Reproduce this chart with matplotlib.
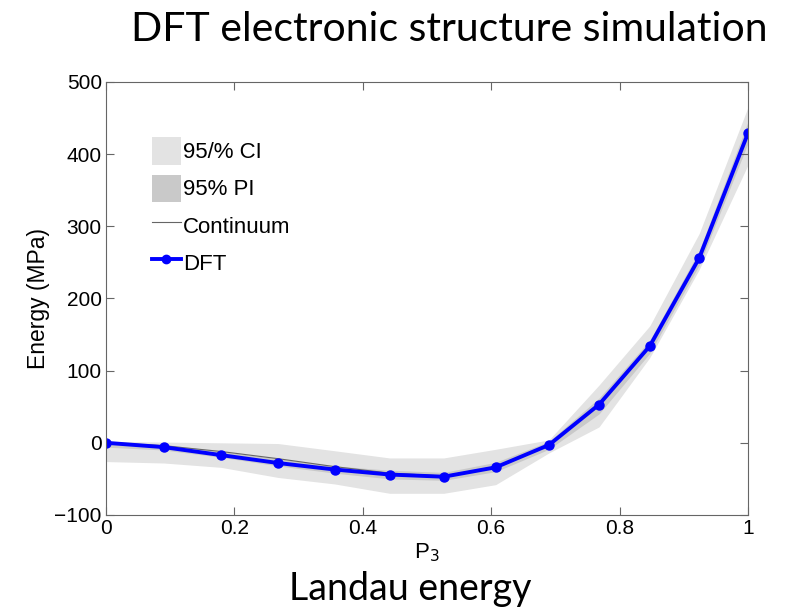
import matplotlib
matplotlib.use("Agg")
import matplotlib.pyplot as plt
from matplotlib.patches import Patch
from matplotlib.lines import Line2D

# values
p3 = [0.0, 0.090, 0.179, 0.268, 0.356, 0.442, 0.526, 0.607, 0.690, 0.768, 0.847, 0.924, 1.0]
dft = [0, -6, -17, -28, -37, -44, -47, -34, -3, 53, 134, 256, 429]
continuum = [0, -4, -12, -22, -33, -42, -46, -33, -3, 53, 134, 256, 429]
ci_low = [-26, -28, -34, -48, -57, -70, -70, -58, -14, 22, 118, 240, 385]
ci_high = [2, 1, 0, -1, -11, -21, -21, -9, 4, 80, 162, 290, 465]
pi_low = [-6, -10, -20, -32, -42, -50, -52, -40, -9, 40, 124, 246, 415]
pi_high = [2, -2, -12, -22, -32, -38, -41, -27, 2, 62, 142, 266, 445]

plt.rcParams['font.family'] = ['Liberation Sans', 'DejaVu Sans']

fig = plt.figure(figsize=(7.92, 6.09), dpi=100)
ax = fig.add_axes([0.1338, 0.1544, 0.8106, 0.711])

ax.fill_between(p3, ci_low, ci_high, color='#e3e3e3', lw=0)
ax.fill_between(p3, pi_low, pi_high, color='#c9c9c9', lw=0)
ax.plot(p3, continuum, color='#666666', lw=0.8)
ax.plot(p3, dft, color='#0000ff', lw=2.8, marker='o', ms=6.5)

ax.set_xlim(0, 1)
ax.set_ylim(-100, 500)
ax.set_xticks([0, 0.2, 0.4, 0.6, 0.8, 1])
ax.set_xticklabels(['0', '0.2', '0.4', '0.6', '0.8', '1'])
ax.set_yticks(range(-100, 501, 100))
ax.set_yticklabels(['\u2212100', '0', '100', '200', '300', '400', '500'])
ax.tick_params(direction='in', top=True, right=True, labelsize=15, length=6, color='#666666', pad=3)
for s in ax.spines.values():
    s.set_color('#666666')
ax.set_xlabel('P$_3$', fontsize=16, labelpad=2)
ax.set_ylabel('Energy (MPa)', fontsize=16.5, labelpad=3)

handles = [Patch(facecolor='#e3e3e3', edgecolor='none'),
           Patch(facecolor='#c9c9c9', edgecolor='none'),
           Line2D([], [], color='#666666', lw=0.8),
           Line2D([], [], color='#0000ff', lw=2.8, marker='o', ms=6)]
ax.legend(handles, ['95/% CI', '95% PI', 'Continuum', 'DFT'], loc='upper left',
          bbox_to_anchor=(0.04, 0.918), frameon=False, fontsize=16,
          handlelength=1.3, handletextpad=0.1, labelspacing=0.45, handleheight=1.5)

fig.text(0.567, 0.952, 'DFT electronic structure simulation', fontsize=29.5,
         family=['Lato', 'DejaVu Sans'], ha='center', va='center')
fig.text(0.518, 0.033, 'Landau energy', fontsize=27,
         family=['Lato', 'DejaVu Sans'], ha='center', va='center')

fig.savefig('out.png', dpi=100)
